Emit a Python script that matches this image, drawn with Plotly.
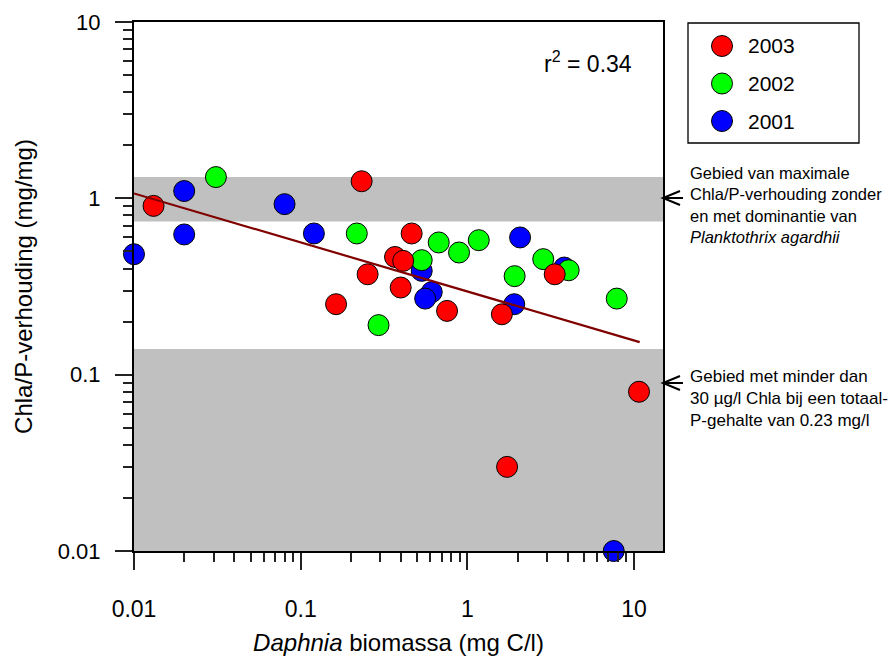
import plotly.graph_objects as go

# ---------------- data ----------------
years = ["2003", "2002", "2001"]
year_colors = ["#FF0000", "#00FF00", "#0000FF"]

daphnia_2003 = [0.0131, 0.232, 0.463, 0.368, 0.412, 0.252, 0.398, 0.163, 0.755, 1.61, 3.34, 10.7, 1.73]
chlap_2003 = [0.906, 1.25, 0.632, 0.465, 0.442, 0.371, 0.312, 0.251, 0.230, 0.220, 0.371, 0.080, 0.030]

daphnia_2002 = [0.031, 0.217, 0.673, 0.891, 1.17, 0.532, 2.85, 4.05, 1.92, 7.87, 0.293]
chlap_2002 = [1.32, 0.632, 0.562, 0.493, 0.579, 0.446, 0.452, 0.391, 0.362, 0.270, 0.191]

daphnia_2001 = [0.010, 0.020, 0.020, 0.080, 0.120, 2.07, 0.532, 0.611, 0.558, 1.91, 3.81, 7.55]
chlap_2001 = [0.482, 1.10, 0.624, 0.927, 0.632, 0.600, 0.388, 0.294, 0.270, 0.251, 0.405, 0.010]

# regression line end points
fit_x = [0.01, 10.8]
fit_y = [1.066, 0.153]
r2_text = "r<sup>2</sup> = 0.34"

# shaded bands (Chla/P ranges)
band_max_chla = [0.74, 1.32]
band_low_chla = [0.01, 0.14]

major_ticks_x = [0.01, 0.1, 1, 10]
major_labels_x = ["0.01", "0.1", "1", "10"]
major_ticks_y = [0.01, 0.1, 1, 10]
major_labels_y = ["0.01", "0.1", "1", "10"]

note_max = ("Gebied van maximale<br>Chla/P-verhouding zonder<br>en met dominantie van"
            "<br><i>Planktothrix agardhii</i>")
note_low = "Gebied met minder dan<br>30 µg/l Chla bij een totaal-<br>P-gehalte van 0.23 mg/l"

x_title = "<i>Daphnia</i> biomassa (mg C/l)"
y_title = "Chla/P-verhouding (mg/mg)"

# ---------------- layout geometry ----------------
W, H = 891, 657
L, R, T, B = 134, 663, 22, 551  # plot area in pixels
PW, PH = R - L, B - T


def px(xp):
    return (xp - L) / PW


def py(yp):
    return (B - yp) / PH


FONT = "Liberation Sans, Arial, sans-serif"

minor_vals = [m * 10 ** e for e in (-2, -1, 0) for m in range(2, 10)]

fig = go.Figure()

series = [
    ("2001", daphnia_2001, chlap_2001, year_colors[2]),
    ("2002", daphnia_2002, chlap_2002, year_colors[1]),
    ("2003", daphnia_2003, chlap_2003, year_colors[0]),
]
for name, xs, ys, col in series:
    fig.add_trace(go.Scatter(
        x=xs, y=ys, mode="markers", name=name, cliponaxis=False,
        marker=dict(size=21, color=col, line=dict(color="black", width=1)),
        showlegend=False,
    ))

fig.add_trace(go.Scatter(
    x=fit_x, y=fit_y, mode="lines", name="regressie", cliponaxis=False,
    line=dict(color="#800000", width=2.2), showlegend=False,
))

shapes = []
for band in (band_max_chla, band_low_chla):
    shapes.append(dict(type="rect", xref="x domain", x0=0, x1=1, yref="y",
                       y0=band[0], y1=band[1], fillcolor="#C0C0C0",
                       line=dict(width=0), layer="below"))

# legend box
shapes.append(dict(type="rect", xref="paper", yref="paper",
                   x0=px(688), x1=px(859), y0=py(143), y1=py(23),
                   line=dict(color="black", width=1.3), fillcolor="white"))

annotations = []
leg_y = [46, 83.5, 121]
for (name, col), yy in zip(zip(years, year_colors), leg_y):
    shapes.append(dict(type="circle", xref="paper", yref="paper",
                       x0=px(722 - 10.5), x1=px(722 + 10.5),
                       y0=py(yy + 10.5), y1=py(yy - 10.5),
                       fillcolor=col, line=dict(color="black", width=1)))
    annotations.append(dict(text=name, xref="paper", yref="paper", x=px(746),
                            y=py(yy), xanchor="left", yanchor="middle",
                            showarrow=False, font=dict(size=21, family=FONT, color="black")))

# arrows
for yy in (198, 383):
    shapes.append(dict(type="path", xref="paper", yref="paper",
                       xsizemode="pixel", ysizemode="pixel",
                       xanchor=1.0, yanchor=py(yy),
                       path="M0,0 L20,0 M17,7 L0,0 L17,-7",
                       line=dict(color="black", width=2)))

annotations.append(dict(text=note_max, xref="paper", yref="paper", x=px(688),
                        y=py(205), xanchor="left", yanchor="middle", align="left",
                        showarrow=False, font=dict(size=16.5, family=FONT, color="black")))
annotations.append(dict(text=note_low, xref="paper", yref="paper", x=px(688),
                        y=py(398), xanchor="left", yanchor="middle", align="left",
                        showarrow=False, font=dict(size=17, family=FONT, color="black")))
annotations.append(dict(text=r2_text, xref="paper", yref="paper", x=px(634),
                        y=py(62), xanchor="right", yanchor="middle",
                        showarrow=False, font=dict(size=23, family=FONT, color="black")))

axis_common = dict(
    type="log", ticks="outside", ticklen=17, tickwidth=1.5, tickcolor="#222",
    showline=True, linecolor="black", linewidth=2, mirror=True,
    showgrid=False, zeroline=False, automargin=False,
    minor=dict(tickmode="array", tickvals=minor_vals, ticks="outside", ticklen=9,
               tickwidth=1.5, tickcolor="#222", showgrid=False),
)

fig.update_layout(
    width=W, height=H,
    margin=dict(l=L, r=W - R, t=T, b=H - B, autoexpand=False),
    paper_bgcolor="white", plot_bgcolor="white",
    font=dict(family=FONT, color="black"),
    showlegend=False,
    shapes=shapes, annotations=annotations,
    xaxis=dict(range=[-2, -2 + PW / 166.7], tickmode="array",
               tickvals=major_ticks_x, ticktext=major_labels_x,
               ticklabelstandoff=19,
               tickfont=dict(size=23, family=FONT, color="black"),
               title=dict(text=x_title, font=dict(size=24, family=FONT), standoff=14),
               **axis_common),
    yaxis=dict(range=[-2, 1], tickmode="array",
               tickvals=major_ticks_y, ticktext=major_labels_y,
               ticklabelstandoff=10,
               tickfont=dict(size=22, family=FONT, color="black"),
               title=dict(text=y_title, font=dict(size=24, family=FONT), standoff=18),
               **axis_common),
)

fig.write_html("out.html")
